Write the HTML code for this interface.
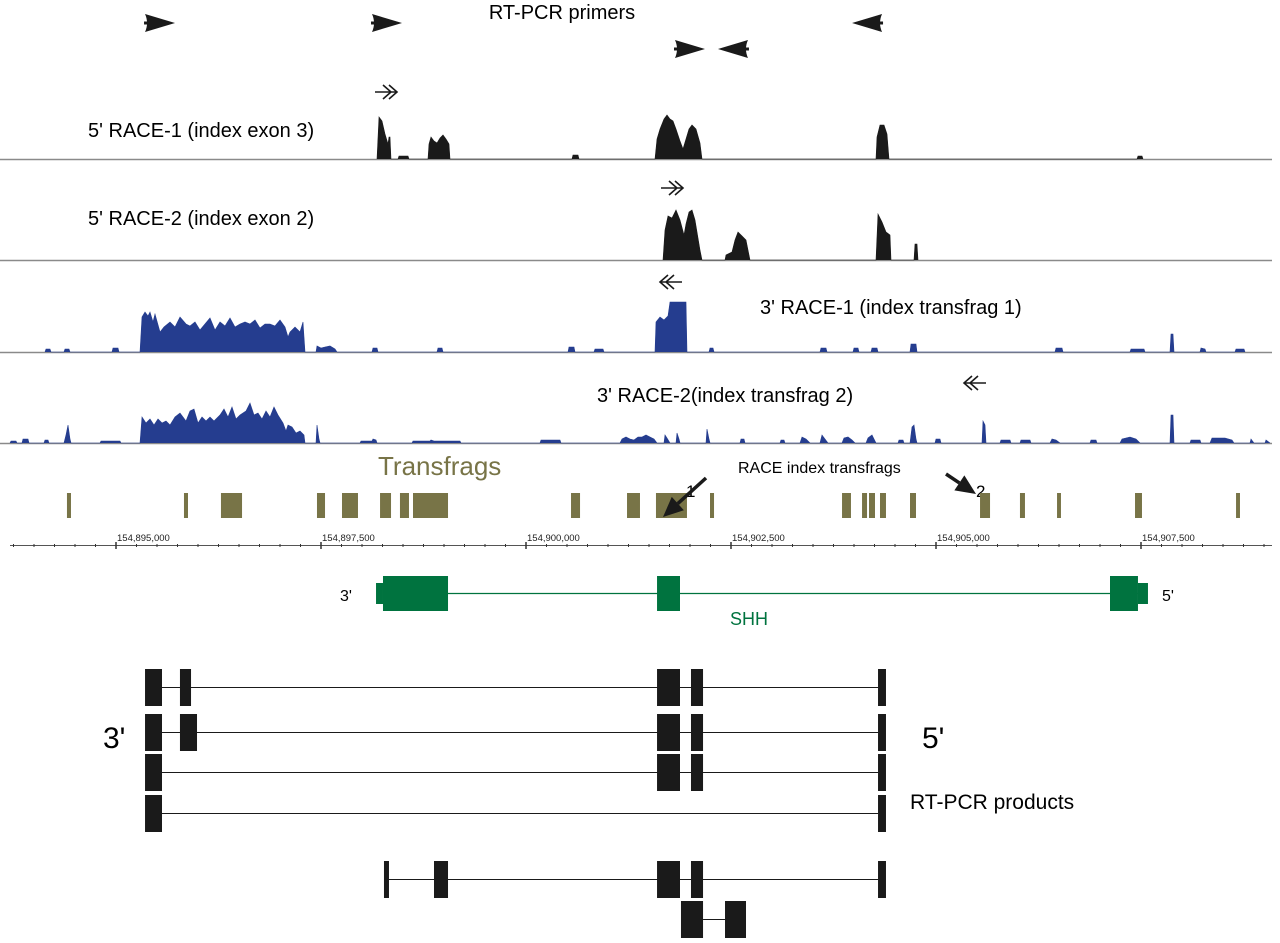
<!DOCTYPE html>
<html><head><meta charset="utf-8"><style>
body{margin:0;background:#fff;width:1280px;height:938px;overflow:hidden;font-family:"Liberation Sans",Arial,sans-serif}
svg text{font-family:"Liberation Sans",Arial,sans-serif}
</style></head><body>
<svg id="fig" width="1280" height="938" viewBox="0 0 1280 938" xmlns="http://www.w3.org/2000/svg">
<g id="labels">
<text x="562" y="19" font-size="20" text-anchor="middle">RT-PCR primers</text>
<text x="88" y="137" font-size="20">5' RACE-1 (index exon 3)</text>
<text x="88" y="225" font-size="20">5' RACE-2 (index exon 2)</text>
<text x="760" y="314" font-size="20">3' RACE-1 (index transfrag 1)</text>
<text x="597" y="402" font-size="20">3' RACE-2(index transfrag 2)</text>
<text x="378" y="475" font-size="26" fill="#787447">Transfrags</text>
<text x="738" y="473" font-size="16">RACE index transfrags</text>
<text x="686" y="497" font-size="17">1</text>
<text x="976" y="497" font-size="17">2</text>
<text x="340" y="601" font-size="16">3'</text>
<text x="1162" y="601" font-size="16">5'</text>
<text x="730" y="625" font-size="18" fill="#00733f">SHH</text>
<text x="103" y="748" font-size="30">3'</text>
<text x="922" y="748" font-size="30">5'</text>
<text x="910" y="809" font-size="21">RT-PCR products</text>
</g>
<g id="marks"></g>
</svg>
<script>
const AX0=116, BP0=154895000, PXPERBP=205/2500;
function xs(bp){return AX0+(bp-BP0)*PXPERBP;}
function k(px){return Math.round(BP0+(px-AX0)/PXPERBP);}
const tickLabels=[154895000,154897500,154900000,154902500,154905000,154907500];
const transfrags=[[67,71],[184,188],[221,242],[317,325],[342,358],[380,391],[400,409],[413,448],[571,580],[627,640],[656,687],[710,714],[842,851],[862,867],[869,875],[880,886],[910,916],[980,990],[1020,1025],[1057,1061],[1135,1142],[1236,1240]].map(a=>a.map(k));
const race5a=[[377,0],[379,42],[382,38],[385,25],[388,15],[389,22],[390,22],[391,0],[398,0],[399,3],[408,3],[409,0],[428,0],[429,15],[431,22],[434,18],[437,16],[440,21],[443,24],[446,20],[449,15],[450,0],[572,0],[573,4],[578,4],[579,0],[655,0],[657,20],[660,30],[664,40],[667,44],[670,40],[673,38],[676,30],[680,18],[683,10],[686,20],[689,30],[692,34],[696,30],[700,16],[702,0],[876,0],[877,22],[880,34],[884,34],[887,25],[889,0],[1137,0],[1138,3],[1142,3],[1143,0]].map(p=>[k(p[0]),p[1]]);
const race5b=[[663,0],[665,30],[668,44],[672,42],[676,50],[680,40],[684,25],[686,36],[689,48],[692,50],[695,40],[700,10],[702,0],[725,0],[726,5],[732,8],[735,20],[738,28],[742,24],[746,20],[750,0],[876,0],[878,46],[882,38],[886,28],[890,25],[891,0],[914,0],[915,16],[917,16],[918,0]].map(p=>[k(p[0]),p[1]]);
const race3a=[[45,0],[46,3],[50,3],[51,0],[64,0],[65,3],[69,3],[70,0],[112,0],[113,4],[118,4],[119,0],[140,0],[142,35],[145,40],[148,36],[150,40],[153,30],[155,38],[160,20],[164,25],[170,30],[175,25],[180,35],[186,28],[190,26],[195,30],[200,22],[205,28],[210,34],[215,22],[220,30],[225,26],[230,34],[235,25],[240,28],[245,30],[250,28],[255,32],[260,24],[265,28],[270,28],[275,26],[280,32],[285,25],[288,15],[290,20],[295,25],[300,20],[303,30],[305,0],[316,0],[317,6],[321,4],[325,5],[330,6],[335,3],[337,0],[372,0],[373,4],[377,4],[378,0],[437,0],[438,4],[442,4],[443,0],[568,0],[569,5],[574,5],[575,0],[594,0],[595,3],[603,3],[604,0],[655,0],[656,30],[660,35],[664,32],[668,36],[670,50],[686,50],[687,0],[709,0],[710,4],[713,4],[714,0],[820,0],[821,4],[826,4],[827,0],[853,0],[854,4],[858,4],[859,0],[871,0],[872,4],[877,4],[878,0],[910,0],[911,8],[916,8],[917,0],[1055,0],[1056,4],[1062,4],[1063,0],[1130,0],[1131,3],[1144,3],[1145,0],[1170,0],[1171,18],[1173,18],[1174,0],[1200,0],[1201,4],[1205,3],[1206,0],[1235,0],[1236,3],[1244,3],[1245,0]].map(p=>[k(p[0]),p[1]]);
const race3b=[[10,0],[11,2],[16,2],[17,0],[22,0],[23,4],[28,4],[29,0],[44,0],[45,3],[48,3],[49,0],[64,0],[66,8],[68,18],[70,4],[71,0],[100,0],[101,2],[120,2],[121,0],[140,0],[142,26],[146,20],[150,24],[154,18],[158,24],[162,20],[166,22],[170,18],[175,26],[180,30],[186,22],[190,32],[194,34],[198,20],[202,26],[206,22],[210,26],[214,22],[220,28],[224,34],[228,26],[232,36],[236,24],[240,28],[246,32],[250,40],[254,28],[258,30],[262,24],[266,32],[270,26],[274,36],[278,28],[283,20],[286,12],[288,18],[292,16],[296,10],[300,12],[304,8],[305,0],[316,0],[317,18],[319,4],[320,0],[360,0],[361,2],[372,2],[373,4],[376,3],[377,0],[412,0],[413,2],[430,2],[431,3],[434,2],[460,2],[461,0],[540,0],[541,3],[560,3],[561,0],[620,0],[622,4],[626,6],[630,4],[634,3],[638,6],[642,6],[646,8],[650,6],[654,4],[657,0],[664,0],[665,8],[667,5],[670,0],[676,0],[677,10],[679,4],[680,0],[706,0],[707,14],[709,4],[710,0],[740,0],[741,4],[744,4],[745,0],[780,0],[781,3],[784,3],[785,0],[800,0],[802,6],[806,4],[810,0],[820,0],[822,8],[825,4],[828,0],[842,0],[844,5],[848,6],[852,3],[855,0],[866,0],[868,5],[872,8],[874,4],[876,0],[898,0],[899,3],[903,3],[904,0],[910,0],[912,16],[914,18],[916,4],[917,0],[935,0],[936,4],[940,4],[941,0],[982,0],[983,22],[985,18],[986,0],[1000,0],[1001,3],[1010,3],[1011,0],[1020,0],[1021,3],[1030,3],[1031,0],[1050,0],[1052,4],[1056,3],[1060,0],[1090,0],[1091,3],[1096,3],[1097,0],[1120,0],[1122,4],[1130,6],[1136,4],[1140,0],[1170,0],[1171,28],[1173,28],[1174,0],[1190,0],[1191,3],[1200,3],[1201,0],[1210,0],[1212,5],[1225,5],[1232,3],[1234,0],[1250,0],[1251,4],[1254,0],[1265,0],[1266,3],[1270,0]].map(p=>[k(p[0]),p[1]]);
const geneExons=[[383,448],[657,680],[1110,1138]].map(a=>a.map(k));
const geneUtrs=[[376,383],[1138,1148]].map(a=>a.map(k));
const productRows=[
 {y:687,ex:[[145,162],[180,191],[657,680],[691,703],[878,886]]},
 {y:732,ex:[[145,162],[180,197],[657,680],[691,703],[878,886]]},
 {y:772,ex:[[145,162],[657,680],[691,703],[878,886]]},
 {y:813,ex:[[145,162],[878,886]]},
 {y:879,ex:[[384,389],[434,448],[657,680],[691,703],[878,886]]},
 {y:919,ex:[[681,703],[725,746]]}
].map(r=>({y:r.y,ex:r.ex.map(a=>a.map(k))}));
const primers=[[160,23,1],[387,23,1],[867,23,-1],[690,49,1],[733,49,-1]].map(p=>[k(p[0]),p[1],p[2]]);

const NS="http://www.w3.org/2000/svg";
const g=document.getElementById('marks');
function el(tag,attrs){const e=document.createElementNS(NS,tag);for(const a in attrs)e.setAttribute(a,attrs[a]);g.appendChild(e);return e;}

const tracks=[[race5a,159,'#1a1a1a','coverage-5race1'],[race5b,260,'#1a1a1a','coverage-5race2'],[race3a,352,'#253d8f','coverage-3race1'],[race3b,443,'#253d8f','coverage-3race2']];
tracks.forEach(t=>{
 const base=el('line',{x1:0,x2:1272,y1:t[1]+0.5,y2:t[1]+0.5,stroke:'#8a8a8a','stroke-width':1.5});
 
 
 let d='';t[0].forEach((p,i)=>{d+=(i?'L':'M')+xs(p[0]).toFixed(1)+','+(t[1]-p[1]);});
 const path=el('path',{d:d,fill:t[2],stroke:t[2],'stroke-width':0.6});
 
 
});
transfrags.forEach(f=>{
 const r=el('rect',{x:xs(f[0]),y:493,width:xs(f[1])-xs(f[0]),height:25,fill:'#787447'});
 
 
});
const ax=el('line',{x1:10,x2:1272,y1:545.5,y2:545.5,stroke:'#555','stroke-width':1});


for(let b=BP0-1250;b<=BP0+14000;b+=250){const x=xs(b);if(x<10||x>1272)continue;
 const major=((b-BP0)%2500===0);
 const t=el('line',{x1:x,x2:x,y1:major?542:544,y2:major?549:547,stroke:'#333','stroke-width':major?1.5:1});
 
 }
tickLabels.forEach(b=>{const t=el('text',{x:xs(b)+1,y:541,'font-size':9.5,fill:'#222'});t.textContent=b.toLocaleString('en-US');
 
 });
const gl=el('line',{x1:xs(geneExons[0][0]),x2:xs(geneExons[2][1]),y1:593.5,y2:593.5,stroke:'#00733f','stroke-width':1.3});


geneExons.forEach(e=>{const r=el('rect',{x:xs(e[0]),y:576,width:xs(e[1])-xs(e[0]),height:35,fill:'#00733f'});
 
 });
geneUtrs.forEach(e=>{const r=el('rect',{x:xs(e[0]),y:583,width:xs(e[1])-xs(e[0]),height:21,fill:'#00733f'});
 
 });
productRows.forEach(r=>{
 const l=el('line',{x1:xs(r.ex[0][1]),x2:xs(r.ex[r.ex.length-1][0]),y1:r.y+0.5,y2:r.y+0.5,stroke:'#1a1a1a','stroke-width':1});
 
 
 r.ex.forEach(e=>{const b=el('rect',{x:xs(e[0]),y:r.y-18,width:xs(e[1])-xs(e[0]),height:37,fill:'#1a1a1a'});
  
  });
});
primers.forEach(p=>{const x=xs(p[0]),y=p[1],s=p[2];
 const d=`M${x-15*s},${y-9} L${x+15*s},${y} L${x-15*s},${y+9} Q${x-11*s},${y} ${x-15*s},${y-9}Z M${x-16*s},${y-1.5}h${5*s}v3h${-5*s}Z`;
 const a=el('path',{d:d,fill:'#1a1a1a'});
 
 });
[[375,92,1],[661,188,1],[682,282,-1],[986,383,-1]].forEach(a=>{const x=a[0],y=a[1],s=a[2];
 const d=`M${x},${y}h${22*s} M${x+14*s},${y-7}l${8*s},7l${-8*s},7 M${x+8*s},${y-7}l${8*s},7l${-8*s},7`;
 const p=el('path',{d:d,fill:'none',stroke:'#1a1a1a','stroke-width':1.6});
 
 });
[[706,478,663,517],[946,474,976,494]].forEach(a=>{
 const ang=Math.atan2(a[3]-a[1],a[2]-a[0]);const L=20,W=9;
 const bx=a[2]-L*Math.cos(ang),by=a[3]-L*Math.sin(ang);
 const l=el('line',{x1:a[0],y1:a[1],x2:bx,y2:by,stroke:'#1a1a1a','stroke-width':3.5});
 
 
 const h=el('path',{d:`M${a[2]},${a[3]}L${bx+W*Math.sin(ang)},${by-W*Math.cos(ang)}L${bx-W*Math.sin(ang)},${by+W*Math.cos(ang)}Z`,fill:'#1a1a1a'});
 
 });
</script>
</body></html>
